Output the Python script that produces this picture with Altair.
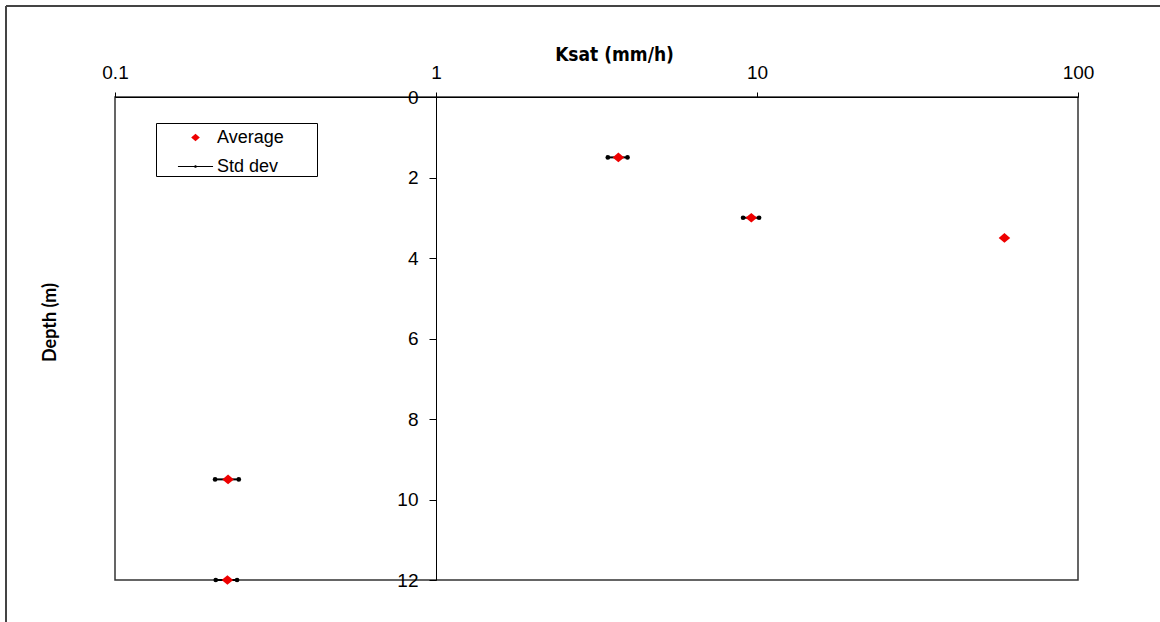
import altair as alt
import pandas as pd

# Saturated hydraulic conductivity measured at depth
depth_m = [1.5, 3.0, 3.5, 9.5, 12.0]
ksat_avg = [3.7, 9.6, 59.0, 0.225, 0.224]
ksat_low = [3.43, 9.05, 59.0, 0.205, 0.206]
ksat_high = [3.95, 10.15, 59.0, 0.243, 0.240]

x_ticks = [0.1, 1, 10, 100]
y_ticks = [0, 2, 4, 6, 8, 10, 12]
legend_names = ["Average", "Std dev"]
legend_colors = ["#ee0000", "black"]

W, H = 963, 483

avg_df = pd.DataFrame({"depth": depth_m, "ksat": ksat_avg, "series": "Average"})
bar_df = pd.DataFrame({"depth": depth_m, "low": ksat_low, "high": ksat_high})
end_df = pd.DataFrame({
    "depth": depth_m + depth_m,
    "ksat": ksat_low + ksat_high,
})

x_scale = alt.Scale(type="log", domain=[0.1, 100], nice=False)
y_scale = alt.Scale(domain=[0, 12], reverse=True, nice=False, zero=False)

narrow_font = "Liberation Sans Narrow, DejaVu Sans Condensed, Liberation Sans"

x_axis = alt.Axis(
    orient="top", values=x_ticks, format="~g", title="Ksat (mm/h)",
    grid=False, tickSize=5, labelPadding=10, labelFontSize=19,
    labelFont="Liberation Sans", labelColor="black",
    labelFlush=False, labelOverlap=False, labelBound=False,
    domainColor="black", tickColor="black", domainWidth=1,
    titleFont=narrow_font, titleFontWeight="bold",
    titleFontSize=19, titleColor="black",
    titleX=499, titleY=-43, titleAlign="center", titleBaseline="middle",
)
y_axis = alt.Axis(
    orient="left", values=y_ticks, title="Depth (m)", offset=-W / 3,
    grid=False, tickSize=7, labelPadding=11, labelFontSize=19,
    labelFont="Liberation Sans", labelColor="black",
    labelFlush=False, labelOverlap=False, labelBound=False,
    domainColor="black", tickColor="black", domainWidth=1,
    titleFont="Lato", titleFontWeight="bold", titleFontSize=18,
    titleColor="black", titleAngle=270,
    titleX=-386, titleY=225, titleAlign="center", titleBaseline="middle",
)

# legend glyphs: a small diamond and a short line with a dot
diamond_path = "M0,-0.27L0.32,0L0,0.27L-0.32,0Z"
stddev_path = ("M-1.3,-0.04H1.3V0.04H-1.3Z"
               "M0.1,0A0.1,0.1 0 1 1 -0.1,0A0.1,0.1 0 1 1 0.1,0Z")

legend_spec = dict(
    title="|", titleOrient="right", titleColor="white", titleFontSize=10,
    titlePadding=30,
    orient="none", legendX=41, legendY=26,
    direction="vertical", padding=0, symbolOffset=25,
    symbolSize=729, labelOffset=7,
    labelFont="Liberation Sans", labelFontSize=18, labelColor="black",
    rowPadding=5, strokeColor="black", fillColor="white",
)

whiskers = alt.Chart(bar_df).mark_rule(color="black", strokeWidth=2).encode(
    x=alt.X("low:Q", scale=x_scale, axis=x_axis),
    x2="high:Q",
    y=alt.Y("depth:Q", scale=y_scale, axis=y_axis),
)

ends = alt.Chart(end_df).mark_point(filled=True, color="black", size=22, opacity=1).encode(
    x=alt.X("ksat:Q", scale=x_scale),
    y=alt.Y("depth:Q", scale=y_scale),
)

averages = alt.Chart(avg_df).mark_point(filled=True, size=1296, opacity=1).encode(
    x=alt.X("ksat:Q", scale=x_scale),
    y=alt.Y("depth:Q", scale=y_scale),
    color=alt.Color(
        "series:N",
        scale=alt.Scale(domain=legend_names, range=legend_colors),
        legend=alt.Legend(**legend_spec),
    ),
    shape=alt.Shape(
        "series:N",
        scale=alt.Scale(domain=legend_names, range=[diamond_path, stddev_path]),
        legend=alt.Legend(**legend_spec),
    ),
)

# outer frame lines of the figure
frame_df = pd.DataFrame({"k": [0]})
frame_top = alt.Chart(frame_df).mark_rule(color="#444", strokeWidth=2).encode(
    x=alt.value(-109), x2=alt.value(1045), y=alt.value(-91)
)
frame_left = alt.Chart(frame_df).mark_rule(color="#444", strokeWidth=2).encode(
    x=alt.value(-109), y=alt.value(-91), y2=alt.value(525)
)

chart = alt.layer(whiskers, ends, averages, frame_top, frame_left).properties(
    width=W, height=H,
    padding={"left": 115, "top": 97, "right": 82, "bottom": 42},
    autosize="none",
    background="white",
).configure_view(stroke="#333", strokeWidth=1.5)

chart.save("out.html", embed_options={"renderer": "svg", "actions": False})
